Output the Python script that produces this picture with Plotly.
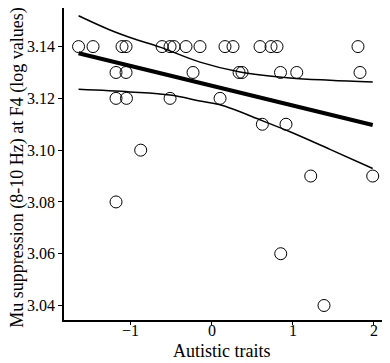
import plotly.graph_objects as go

# Scatter data (Autistic traits, Mu suppression)
x_pts = [-1.646, -1.467, -1.109, -1.059, -0.614, -0.515, -0.466, -0.318, -0.145,
         0.164, 0.263, 0.597, 0.733, 0.807, 1.808,
         -1.183, -1.059, -0.231, 0.338, 0.375, 0.850, 1.051, 1.833,
         -1.183, -1.054, -0.515, 0.103,
         0.626, 0.918,
         -0.878,
         1.224, 1.990,
         -1.183,
         0.853,
         1.388]
y_pts = [3.14] * 15 + [3.13] * 8 + [3.12] * 4 + [3.11] * 2 + [3.10] + [3.09] * 2 + [3.08] + [3.06] + [3.04]

# Fitted regression line
fit_x = [-1.646, 1.990]
fit_y = [3.1374, 3.1097]

# Confidence band
upper_x = [-1.646, -1.257, -0.973, -0.639, -0.145, 0.350, 0.968, 1.462, 1.990]
upper_y = [3.1519, 3.1464, 3.1431, 3.1398, 3.1340, 3.1302, 3.1279, 3.1270, 3.1263]
lower_x = [-1.646, -1.010, -0.515, -0.145, 0.103, 0.622, 0.968, 1.462, 1.990]
lower_y = [3.1235, 3.1225, 3.1213, 3.1190, 3.1175, 3.1114, 3.1071, 3.1003, 3.0929]

x_ticks = [-1, 0, 1, 2]
x_tick_text = ["\u22121", "0", "1", "2"]
y_ticks = [3.04, 3.06, 3.08, 3.10, 3.12, 3.14]
y_tick_text = ["3.04", "3.06", "3.08", "3.10", "3.12", "3.14"]

x_title = "Autistic traits"
y_title = "Mu suppression (8-10 Hz) at F4 (log values)"

FONT = "Liberation Serif, Times New Roman, serif"

fig = go.Figure()
fig.add_trace(go.Scatter(x=upper_x, y=upper_y, mode="lines",
                         line=dict(color="black", width=1.5, shape="spline"),
                         hoverinfo="skip"))
fig.add_trace(go.Scatter(x=lower_x, y=lower_y, mode="lines",
                         line=dict(color="black", width=1.5, shape="spline"),
                         hoverinfo="skip"))
fig.add_trace(go.Scatter(x=fit_x, y=fit_y, mode="lines",
                         line=dict(color="black", width=4)))
fig.add_trace(go.Scatter(x=x_pts, y=y_pts, mode="markers",
                         marker=dict(symbol="circle-open", size=12,
                                     color="black", line=dict(width=1, color="black"))))

# x tick labels placed as annotations (closer to the axis than Plotly's default)
tick_annotations = [
    dict(text=t, x=v, xref="x", yref="paper", y=-0.034,
         xanchor="center", yanchor="middle", showarrow=False,
         font=dict(size=16, family=FONT, color="black"))
    for v, t in zip(x_ticks, x_tick_text)
]

# The page body adds an 8px offset, so the figure is sized to fit the window.
fig.update_layout(
    width=382, height=355,
    margin=dict(l=56, r=2, t=0, b=43),
    paper_bgcolor="white", plot_bgcolor="white",
    showlegend=False,
    font=dict(family=FONT, color="black"),
    annotations=tick_annotations + [
        dict(text=x_title, xref="paper", yref="paper", x=0.4877, y=-0.1,
             xanchor="center", yanchor="middle", showarrow=False,
             font=dict(size=18, family=FONT, color="black")),
        dict(text=y_title, xref="paper", yref="paper", x=-0.146, y=0.487,
             xanchor="center", yanchor="middle", textangle=-90, showarrow=False,
             font=dict(size=18, family=FONT, color="black")),
    ],
)
fig.update_xaxes(
    range=[-1.826, 2.179], tickvals=x_ticks, showticklabels=False,
    showgrid=False, zeroline=False,
    showline=True, linecolor="black", linewidth=1.5,
    ticks="outside", ticklen=3, tickwidth=1, tickcolor="black",
)
fig.update_yaxes(
    range=[3.0344, 3.1549], tickvals=y_ticks, ticktext=y_tick_text,
    showgrid=False, zeroline=False,
    showline=True, linecolor="black", linewidth=1.5,
    ticks="outside", ticklen=4, tickwidth=1, tickcolor="black",
    tickfont=dict(size=16, family=FONT, color="black"),
)

fig.write_html("out.html")
